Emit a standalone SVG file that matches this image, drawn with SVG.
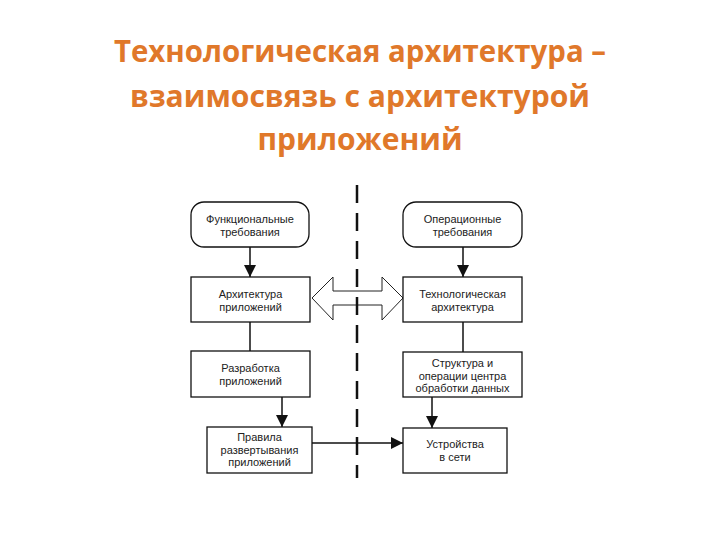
<svg xmlns="http://www.w3.org/2000/svg" width="720" height="540" viewBox="0 0 720 540">
<defs>
<marker id="ah" viewBox="0 0 12 12" refX="12" refY="6" markerWidth="12" markerHeight="12" markerUnits="userSpaceOnUse" orient="auto">
<path d="M0,0 L12,6 L0,12 Z" fill="#111"/>
</marker>
</defs>
<style>
.title{font-family:"Open Sans","Liberation Sans",sans-serif;font-weight:700;font-size:31px;fill:#E0782A;text-anchor:middle}
.box{fill:#fff;stroke:#111;stroke-width:1.3}
.lbl{font-family:"Liberation Sans",Arial,sans-serif;font-size:11px;fill:#222;text-anchor:middle}
.con{stroke:#111;stroke-width:1.5;fill:none}
</style>
<rect width="720" height="540" fill="#fff"/>
<g id="title">
<text class="title" x="360" y="62" textLength="492" lengthAdjust="spacingAndGlyphs">Технологическая архитектура –</text>
<text class="title" x="360" y="107" textLength="460" lengthAdjust="spacingAndGlyphs">взаимосвязь с архитектурой</text>
<text class="title" x="360" y="150" textLength="205" lengthAdjust="spacingAndGlyphs">приложений</text>
</g>
<g id="connectors">
<line class="con" x1="250" y1="247" x2="250" y2="277" marker-end="url(#ah)"/>
<line class="con" x1="250" y1="322" x2="250" y2="351"/>
<line class="con" x1="282" y1="397" x2="282" y2="427" marker-end="url(#ah)"/>
<line class="con" x1="312" y1="443" x2="403" y2="443" marker-end="url(#ah)"/>
<line class="con" x1="463" y1="247" x2="463" y2="277" marker-end="url(#ah)"/>
<line class="con" x1="463" y1="322" x2="463" y2="352"/>
<line class="con" x1="432" y1="397" x2="432" y2="428" marker-end="url(#ah)"/>
<path d="M312,298 L333,277 L333,291 L382,291 L382,277 L403,298 L382,320 L382,305 L333,305 L333,320 Z" fill="#fff" stroke="#222" stroke-width="1"/>
<line x1="357" y1="185" x2="357" y2="478" stroke="#111" stroke-width="2.5" stroke-dasharray="18 10"/>
</g>
<g id="n1">
<rect class="box" x="191" y="202" width="118" height="45" rx="13"/>
<text class="lbl" x="250" y="223">Функциональные</text>
<text class="lbl" x="250" y="236">требования</text>
</g>
<g id="n2">
<rect class="box" x="191" y="277" width="119" height="45"/>
<text class="lbl" x="250.5" y="298">Архитектура</text>
<text class="lbl" x="250.5" y="311">приложений</text>
</g>
<g id="n3">
<rect class="box" x="191" y="351" width="119" height="46"/>
<text class="lbl" x="250.5" y="372">Разработка</text>
<text class="lbl" x="250.5" y="385">приложений</text>
</g>
<g id="n4">
<rect class="box" x="207" y="427" width="105" height="46"/>
<text class="lbl" x="259.5" y="441">Правила</text>
<text class="lbl" x="259.5" y="453.5">развертывания</text>
<text class="lbl" x="259.5" y="466">приложений</text>
</g>
<g id="n5">
<rect class="box" x="403" y="202" width="119" height="45" rx="13"/>
<text class="lbl" x="462.5" y="223">Операционные</text>
<text class="lbl" x="462.5" y="236">требования</text>
</g>
<g id="n6">
<rect class="box" x="403" y="277" width="119" height="45"/>
<text class="lbl" x="462.5" y="298">Технологическая</text>
<text class="lbl" x="462.5" y="311">архитектура</text>
</g>
<g id="n7">
<rect class="box" x="403" y="352" width="119" height="45"/>
<text class="lbl" x="462.5" y="367">Структура и</text>
<text class="lbl" x="462.5" y="379.5">операции центра</text>
<text class="lbl" x="462.5" y="392">обработки данных</text>
</g>
<g id="n8">
<rect class="box" x="403" y="428" width="104" height="45"/>
<text class="lbl" x="455" y="448">Устройства</text>
<text class="lbl" x="455" y="460.5">в сети</text>
</g>
</svg>
